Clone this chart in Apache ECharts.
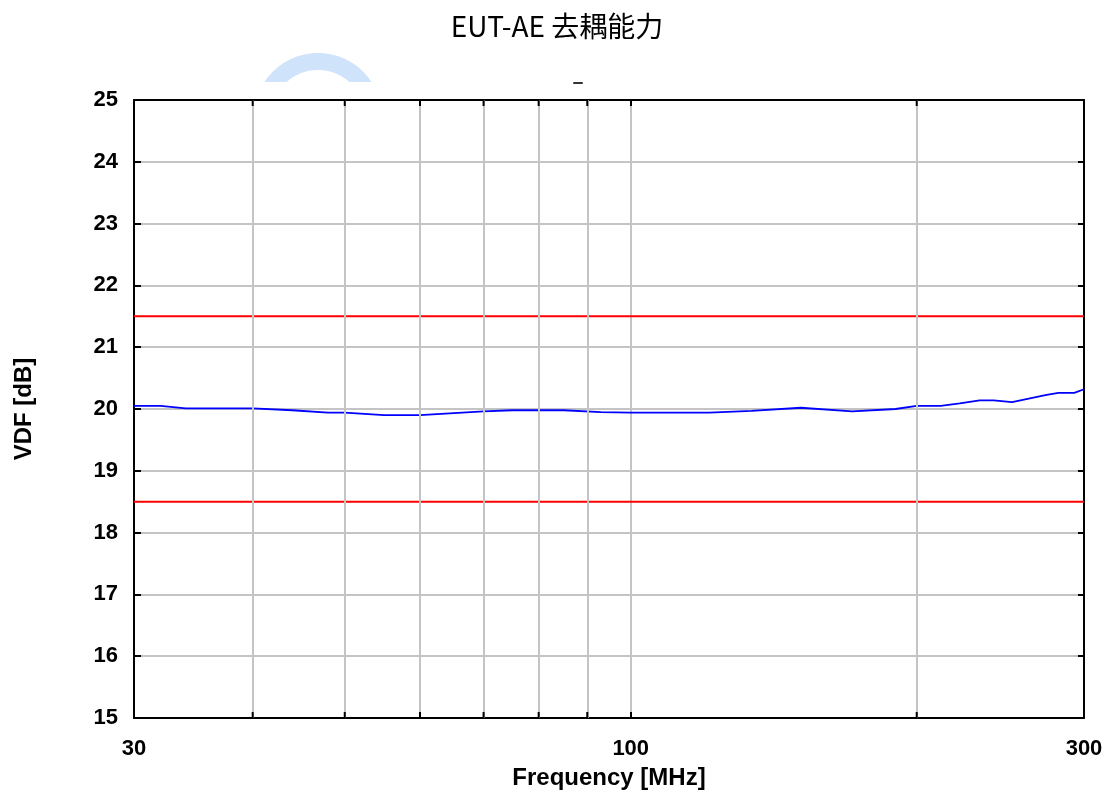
<!DOCTYPE html>
<html>
<head>
<meta charset="utf-8">
<script src="https://cdn.jsdelivr.net/npm/echarts@6/dist/echarts.min.js"></script>
<style>
html,body{margin:0;padding:0;background:#fff;}
#chart{width:1114px;height:798px;}
</style>
</head>
<body>
<div id="chart"></div>
<script>
// Frequency [MHz]
const freqs = [30, 32, 34, 40, 44, 48, 50, 55, 60, 70, 75, 85, 93, 100, 121, 134, 151, 171, 190, 200, 212, 222, 233, 241, 252, 274, 282, 293, 300];
// VDF [dB]
const vdf = [20.05, 20.05, 20.01, 20.01, 19.98, 19.94, 19.94, 19.90, 19.90, 19.96, 19.98, 19.98, 19.95, 19.94, 19.94, 19.97, 20.02, 19.96, 20.00, 20.05, 20.05, 20.09, 20.14, 20.14, 20.11, 20.23, 20.26, 20.26, 20.32];
// limit lines
const limitUpper = 21.5;
const limitLower = 18.5;
const freqRange = [30, 300];
const yRange = [15, 25];
// extra vertical grid lines
const minorGridFreqs = [40, 50, 60, 70, 80, 90, 200];

const titleText = 'EUT-AE 去耦能力';
const xName = 'Frequency [MHz]';
const yName = 'VDF [dB]';

const chart = echarts.init(document.getElementById('chart'), null, {renderer: 'canvas'});

const gridGray = '#c4c4c4';
const labelFont = {fontFamily: 'Liberation Sans, Arial, sans-serif', fontWeight: 'bold', fontSize: 22, color: '#000'};

const minorTickPoints = [];
minorGridFreqs.forEach(f => {
  minorTickPoints.push({coord: [f, yRange[1]], symbolOffset: [0, 3]});
  minorTickPoints.push({coord: [f, yRange[0]], symbolOffset: [0, -3]});
});

// decorative faint ring (watermark remnant) cut off by a horizontal edge
function ringPoints(cx, cy, r, r0, cutY, n) {
  const pts = [];
  const a = Math.asin((cy - cutY) / r);
  const a0 = Math.asin((cy - cutY) / r0);
  for (let i = 0; i <= n; i++) {
    const t = (Math.PI + a) + (Math.PI - 2 * a) * i / n;
    pts.push([cx + r * Math.cos(t), cy + r * Math.sin(t)]);
  }
  for (let i = 0; i <= n; i++) {
    const t = (2 * Math.PI - a0) - (Math.PI - 2 * a0) * i / n;
    pts.push([cx + r0 * Math.cos(t), cy + r0 * Math.sin(t)]);
  }
  return pts;
}

const option = {
  backgroundColor: '#fff',
  animation: false,
  title: {
    text: titleText,
    left: 'center',
    top: 7,
    textStyle: {fontFamily: '"Noto Sans CJK SC", "Noto Sans", sans-serif', fontWeight: 'normal', fontSize: 28, color: '#000'}
  },
  graphic: [
    {
      type: 'polygon',
      silent: true,
      shape: {points: ringPoints(318, 117, 64, 47, 82, 40)},
      style: {fill: '#cfe4fa'}
    },
    {
      type: 'rect',
      silent: true,
      shape: {x: 573, y: 82, width: 10, height: 2, r: 1},
      style: {fill: '#333'}
    }
  ],
  grid: {left: 134, right: 30, top: 100, bottom: 80, containLabel: false},
  xAxis: [
    {
      type: 'log',
      logBase: 10,
      min: freqRange[0],
      max: freqRange[1],
      position: 'bottom',
      name: xName,
      nameLocation: 'middle',
      nameGap: 48,
      nameTextStyle: {fontFamily: 'Liberation Sans, Arial, sans-serif', fontWeight: 'bold', fontSize: 24, color: '#000'},
      axisLine: {show: true, onZero: false, lineStyle: {color: '#000', width: 2}},
      axisTick: {show: true, inside: true, length: 6, lineStyle: {color: '#000', width: 2}},
      axisLabel: Object.assign({margin: 20, formatter: v => String(Math.round(v))}, labelFont),
      splitLine: {show: true, lineStyle: {color: gridGray, width: 2}}
    },
    {
      type: 'log',
      logBase: 10,
      min: freqRange[0],
      max: freqRange[1],
      position: 'top',
      axisLine: {show: true, onZero: false, lineStyle: {color: '#000', width: 2}},
      axisTick: {show: true, inside: true, length: 6, lineStyle: {color: '#000', width: 2}},
      axisLabel: {show: false},
      splitLine: {show: false}
    }
  ],
  yAxis: [
    {
      type: 'value',
      min: yRange[0],
      max: yRange[1],
      interval: 1,
      position: 'left',
      name: yName,
      nameLocation: 'middle',
      nameGap: 98,
      nameTextStyle: {fontFamily: 'Liberation Sans, Arial, sans-serif', fontWeight: 'bold', fontSize: 24, color: '#000'},
      axisLine: {show: true, onZero: false, lineStyle: {color: '#000', width: 2}},
      axisTick: {show: true, inside: true, length: 7, lineStyle: {color: '#000', width: 2}},
      axisLabel: Object.assign({margin: 16}, labelFont),
      splitLine: {show: true, lineStyle: {color: gridGray, width: 2}}
    },
    {
      type: 'value',
      min: yRange[0],
      max: yRange[1],
      interval: 1,
      position: 'right',
      axisLine: {show: true, onZero: false, lineStyle: {color: '#000', width: 2}},
      axisTick: {show: true, inside: true, length: 6, lineStyle: {color: '#000', width: 2}},
      axisLabel: {show: false},
      splitLine: {show: false}
    }
  ],
  series: [
    {
      name: 'grid',
      type: 'line',
      xAxisIndex: 0,
      yAxisIndex: 0,
      data: [],
      silent: true,
      z: 1,
      markLine: {
        silent: true,
        symbol: ['none', 'none'],
        label: {show: false},
        lineStyle: {color: gridGray, width: 2, type: 'solid'},
        data: minorGridFreqs.map(f => ({xAxis: f}))
      },
      markPoint: {
        silent: true,
        symbol: 'rect',
        symbolSize: [2, 6],
        itemStyle: {color: '#000'},
        label: {show: false},
        data: minorTickPoints
      }
    },
    {
      name: 'upper',
      type: 'line',
      xAxisIndex: 0,
      yAxisIndex: 0,
      showSymbol: false,
      symbol: 'none',
      z: 3,
      lineStyle: {color: '#ff0000', width: 2},
      data: freqRange.map(f => [f, limitUpper])
    },
    {
      name: 'lower',
      type: 'line',
      xAxisIndex: 0,
      yAxisIndex: 0,
      showSymbol: false,
      symbol: 'none',
      z: 3,
      lineStyle: {color: '#ff0000', width: 2},
      data: freqRange.map(f => [f, limitLower])
    },
    {
      name: 'VDF',
      type: 'line',
      xAxisIndex: 0,
      yAxisIndex: 0,
      showSymbol: false,
      symbol: 'none',
      z: 4,
      lineStyle: {color: '#0000ff', width: 1.8},
      data: freqs.map((f, i) => [f, vdf[i]])
    }
  ]
};
chart.setOption(option);
</script>
</body>
</html>
